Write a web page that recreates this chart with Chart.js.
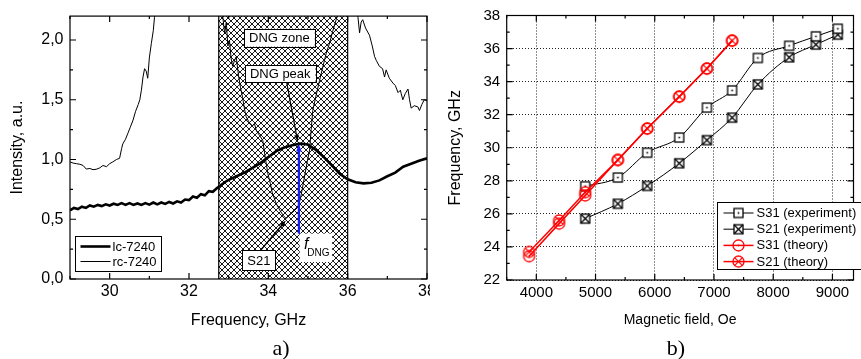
<!DOCTYPE html>
<html>
<head>
<meta charset="utf-8">
<script src="https://cdn.jsdelivr.net/npm/chart.js@4"></script>
<style>
    body { margin: 0; background: #fff; }
    #wrapA { position: absolute; left: 0; top: 0; width: 430px; height: 359px; }
    #wrapB { position: absolute; left: 430px; top: 0; width: 431px; height: 359px; }
</style>
</head>
<body>
<div id="wrapA"><canvas id="chartA"></canvas></div>
<div id="wrapB"><canvas id="chartB"></canvas></div>
<script>
// ---- panel a) spectra ----
var lcFreq = [29.0, 29.1, 29.2, 29.3, 29.4, 29.5, 29.6, 29.7, 29.8, 29.9, 30.0, 30.1, 30.2, 30.3, 30.4, 30.5, 30.6, 30.7, 30.8, 30.9,
    31.0, 31.1, 31.2, 31.3, 31.4, 31.5, 31.6, 31.7, 31.8, 31.9, 32.0, 32.1, 32.2, 32.3, 32.4, 32.5, 32.6, 32.7, 32.8, 32.9,
    33.0, 33.2, 33.4, 33.6, 33.8, 34.0, 34.2, 34.4, 34.6, 34.8, 35.0, 35.2, 35.4, 35.6, 35.8, 36.0, 36.2, 36.4, 36.6, 36.8,
    37.0, 37.2, 37.4, 37.6, 37.8, 38.0];
var lcIntensity = [0.575, 0.595, 0.585, 0.605, 0.595, 0.615, 0.605, 0.62, 0.61, 0.625, 0.615, 0.63, 0.62, 0.635, 0.62, 0.635, 0.62, 0.632, 0.62, 0.635,
    0.622, 0.64, 0.625, 0.64, 0.628, 0.645, 0.632, 0.65, 0.64, 0.665, 0.66, 0.69, 0.68, 0.71, 0.70, 0.735, 0.73, 0.76, 0.785, 0.81,
    0.83, 0.86, 0.89, 0.93, 0.97, 1.02, 1.07, 1.10, 1.12, 1.133, 1.125, 1.08, 1.02, 0.95, 0.88, 0.835, 0.81, 0.80, 0.805, 0.825,
    0.86, 0.89, 0.94, 0.965, 0.99, 1.01];
var rcFreq = [29.0, 29.08, 29.16, 29.25, 29.33, 29.41, 29.5, 29.58, 29.66, 29.75, 29.83, 29.92, 30.0, 30.08, 30.17, 30.25, 30.3, 30.33, 30.4, 30.46,
    30.52, 30.59, 30.65, 30.72, 30.76, 30.8, 30.84, 30.88, 30.92, 30.96, 31.0, 31.05, 31.1, 31.13, 31.3, 32.8, 32.85, 32.9, 32.94, 32.98,
    33.02, 33.06, 33.1, 33.15, 33.19, 33.25, 33.3, 33.35, 33.4, 33.44, 33.5, 33.55, 33.6, 33.65, 33.7, 33.78, 33.86, 33.92, 33.99, 34.05,
    34.1, 34.2, 34.3, 34.38, 34.45, 34.52, 34.62, 34.74, 34.8, 34.86, 34.92, 34.98, 35.04, 35.08, 35.12, 35.2, 35.29, 35.37, 35.46, 35.55,
    35.62, 35.71, 35.79, 35.9, 36.2, 36.26, 36.3, 36.34, 36.38, 36.45, 36.55, 36.62, 36.68, 36.72, 36.8, 36.88, 36.93, 36.97, 37.05, 37.14,
    37.2, 37.27, 37.33, 37.35, 37.39, 37.45, 37.52, 37.56, 37.6, 37.68, 37.77, 37.81, 37.87, 37.93, 38.0];
var rcIntensity = [0.98, 0.97, 0.965, 0.96, 0.95, 0.92, 0.925, 0.915, 0.918, 0.93, 0.95, 0.94, 0.965, 0.98, 1.0, 1.01, 1.09, 1.13, 1.17, 1.22,
    1.27, 1.33, 1.40, 1.46, 1.50, 1.58, 1.69, 1.76, 1.74, 1.68, 1.85, 1.97, 2.08, 2.19, 2.6, 2.6, 2.2, 2.05, 2.15, 1.95,
    2.0, 1.85, 1.78, 1.83, 1.86, 1.7, 1.6, 1.52, 1.42, 1.36, 1.32, 1.30, 1.28, 1.30, 1.24, 1.20, 1.16, 1.02, 0.88, 0.80,
    0.72, 0.63, 0.57, 0.53, 0.506, 0.53, 0.56, 0.60, 0.66, 0.76, 0.87, 0.98, 1.08, 1.25, 1.41, 1.53, 1.66, 1.77, 1.89, 1.98,
    2.07, 2.17, 2.25, 2.6, 2.6, 2.19, 2.06, 2.15, 2.17, 2.1, 2.04, 1.95, 1.86, 1.83, 1.78, 1.76, 1.69, 1.75, 1.68, 1.64,
    1.62, 1.56, 1.58, 1.55, 1.50, 1.55, 1.59, 1.50, 1.43, 1.45, 1.44, 1.41, 1.46, 1.50, 1.49];
var dngZone = [32.75, 36.0];
var fDng = 34.77;
var aXTicks = [30, 32, 34, 36, 38];
var aYTicks = [0, 0.5, 1.0, 1.5, 2.0];
var aXMinor = [29, 31, 33, 35, 37];
var aYMinor = [0.25, 0.75, 1.25, 1.75];

// ---- panel b) dispersion ----
var fieldExp = [4826, 5377, 5873, 6413, 6881, 7306, 7741, 8269, 8721, 9091];
var s31Exp = [27.67, 28.2, 29.7, 30.62, 32.43, 33.47, 35.43, 36.17, 36.74, 37.2];
var s21Exp = [25.71, 26.61, 27.69, 29.06, 30.46, 31.82, 33.83, 35.47, 36.24, 36.84];
var fieldTheory = [3878, 4385, 4826, 5377, 5873, 6413, 6881, 7306];
var s31Theory = [23.44, 25.41, 27.11, 29.26, 31.16, 33.09, 34.79, 36.48];
var s21Theory = [23.7, 25.6, 27.31, 29.26, 31.16, 33.09, 34.79, 36.48];
var bXTicks = [4000, 5000, 6000, 7000, 8000, 9000];
var bYTicks = [22, 24, 26, 28, 30, 32, 34, 36, 38];
var bXMinor = [3500, 4500, 5500, 6500, 7500, 8500];
var bYMinor = [23, 25, 27, 29, 31, 33, 35, 37];

var FONT = '"Liberation Sans", Arial, sans-serif';
var RED = '#ff0000';

function toPoints(xs, ys) {
    var out = [];
    for (var i = 0; i < xs.length; i++) out.push({ x: xs[i], y: ys[i] });
    return out;
}

// fixed tick list for a scale
function useTicks(list) {
    return function (s) {
        s.ticks = list.map(function (v) { return { value: v }; });
    };
}

function makeMarker(shape, mark, color, size) {
    var c = document.createElement('canvas');
    var s = size + 4;
    c.width = s; c.height = s;
    var g = c.getContext('2d');
    var h = s / 2, r = size / 2;
    g.strokeStyle = color; g.lineWidth = 1.3;
    if (shape === 'square') {
        g.fillStyle = '#fff';
        g.fillRect(h - r, h - r, size, size);
        g.strokeRect(h - r, h - r, size, size);
    } else {
        g.beginPath(); g.arc(h, h, r, 0, 2 * Math.PI); g.stroke();
    }
    if (mark === 'dot') {
        g.fillStyle = color;
        g.fillRect(h - 0.8, h - 0.8, 1.6, 1.6);
    } else {
        var k = shape === 'square' ? r : r * 0.7;
        g.beginPath();
        g.moveTo(h - k, h - k); g.lineTo(h + k, h + k);
        g.moveTo(h + k, h - k); g.lineTo(h - k, h + k);
        g.stroke();
    }
    return c;
}

var mS31Exp = makeMarker('square', 'dot', '#000', 9);
var mS21Exp = makeMarker('square', 'cross', '#000', 9);
var mS31Th = makeMarker('circle', 'dot', RED, 11);
var mS21Th = makeMarker('circle', 'cross', RED, 11);

function arrow(ctx, x1, y1, x2, y2, color, width, head) {
    var ang = Math.atan2(y2 - y1, x2 - x1);
    ctx.strokeStyle = color; ctx.fillStyle = color; ctx.lineWidth = width;
    ctx.beginPath(); ctx.moveTo(x1, y1); ctx.lineTo(x2 - Math.cos(ang) * head * 0.6, y2 - Math.sin(ang) * head * 0.6); ctx.stroke();
    ctx.beginPath();
    ctx.moveTo(x2, y2);
    ctx.lineTo(x2 - head * Math.cos(ang - 0.35), y2 - head * Math.sin(ang - 0.35));
    ctx.lineTo(x2 - head * Math.cos(ang + 0.35), y2 - head * Math.sin(ang + 0.35));
    ctx.closePath(); ctx.fill();
}

function textBox(ctx, text, cx, cy, h) {
    ctx.font = '13px ' + FONT;
    var w = ctx.measureText(text).width + 10;
    ctx.fillStyle = '#fff';
    ctx.fillRect(cx - w / 2, cy - h / 2, w, h);
    ctx.strokeStyle = '#000'; ctx.lineWidth = 1;
    ctx.strokeRect(Math.round(cx - w / 2) + 0.5, Math.round(cy - h / 2) + 0.5, Math.round(w), Math.round(h));
    ctx.fillStyle = '#000'; ctx.textAlign = 'center'; ctx.textBaseline = 'middle';
    ctx.fillText(text, cx, cy + 1);
}

// frame with inward ticks on all sides
function framePlugin(xMinor, yMinor) {
    return {
        id: 'frame',
        afterDatasetsDraw: function (chart) {
            var ctx = chart.ctx, a = chart.chartArea, xs = chart.scales.x, ys = chart.scales.y;
            ctx.save();
            ctx.strokeStyle = '#000'; ctx.lineWidth = 1.2;
            ctx.strokeRect(a.left, a.top, a.right - a.left, a.bottom - a.top);
            ctx.beginPath();
            function xt(v, len) {
                var p = xs.getPixelForValue(v);
                ctx.moveTo(p, a.bottom); ctx.lineTo(p, a.bottom - len);
                ctx.moveTo(p, a.top); ctx.lineTo(p, a.top + len);
            }
            function yt(v, len) {
                var p = ys.getPixelForValue(v);
                ctx.moveTo(a.left, p); ctx.lineTo(a.left + len, p);
                ctx.moveTo(a.right, p); ctx.lineTo(a.right - len, p);
            }
            xs.ticks.forEach(function (t) { xt(t.value, 6); });
            ys.ticks.forEach(function (t) { yt(t.value, 6); });
            xMinor.forEach(function (v) { xt(v, 3); });
            yMinor.forEach(function (v) { yt(v, 3); });
            ctx.stroke();
            ctx.restore();
        }
    };
}

function captionPlugin(text, cx) {
    return {
        id: 'caption',
        afterDraw: function (chart) {
            var ctx = chart.ctx;
            ctx.save();
            ctx.font = '22px "Liberation Serif", "Times New Roman", serif';
            ctx.fillStyle = '#000'; ctx.textAlign = 'center'; ctx.textBaseline = 'middle';
            ctx.fillText(text, cx, 349);
            ctx.restore();
        }
    };
}

// cross-hatched DNG zone
var hatchPlugin = {
    id: 'hatch',
    beforeDatasetsDraw: function (chart) {
        var ctx = chart.ctx, a = chart.chartArea, xs = chart.scales.x;
        var n = 6;
        var t = document.createElement('canvas');
        t.width = n; t.height = n;
        var g = t.getContext('2d');
        g.fillStyle = '#fff'; g.fillRect(0, 0, n, n);
        g.strokeStyle = '#000'; g.lineWidth = 0.9;
        g.beginPath();
        g.moveTo(-1, -1); g.lineTo(n + 1, n + 1);
        g.moveTo(n + 1, -1); g.lineTo(-1, n + 1);
        g.stroke();
        var l = xs.getPixelForValue(dngZone[0]), r = xs.getPixelForValue(dngZone[1]);
        ctx.save();
        ctx.fillStyle = ctx.createPattern(t, 'repeat');
        ctx.fillRect(l, a.top, r - l, a.bottom - a.top);
        ctx.strokeStyle = '#000'; ctx.lineWidth = 1.2;
        ctx.beginPath();
        ctx.moveTo(l, a.top); ctx.lineTo(l, a.bottom);
        ctx.moveTo(r, a.top); ctx.lineTo(r, a.bottom);
        ctx.stroke();
        ctx.restore();
    }
};

// labels and arrows of panel a)
var notesPlugin = {
    id: 'notes',
    afterDatasetsDraw: function (chart) {
        var ctx = chart.ctx, xs = chart.scales.x, ys = chart.scales.y;
        function X(v) { return xs.getPixelForValue(v); }
        function Y(v) { return ys.getPixelForValue(v); }
        ctx.save();
        // f_DNG on white patch
        ctx.fillStyle = '#fff';
        ctx.fillRect(X(34.79), Y(0.38), X(35.61) - X(34.79), Y(0.142) - Y(0.38));
        ctx.fillStyle = '#000'; ctx.textAlign = 'left'; ctx.textBaseline = 'alphabetic';
        ctx.font = 'italic 16px ' + FONT;
        ctx.fillText('f', X(34.9), Y(0.255));
        ctx.font = '10px ' + FONT;
        ctx.fillText('DNG', X(34.98), Y(0.19));
        // arrows
        arrow(ctx, X(34.46), Y(1.65), X(34.74), Y(1.15), '#000', 1.2, 7);
        arrow(ctx, X(33.83), Y(0.25), X(34.44), Y(0.49), '#000', 1.5, 7);
        arrow(ctx, X(fDng), Y(0.38), X(fDng), Y(1.13), '#1a1aff', 2.2, 8);
        // boxed labels
        textBox(ctx, 'DNG zone', X(34.28), Y(2.02), 18);
        textBox(ctx, 'DNG peak', X(34.30), Y(1.72), 17);
        textBox(ctx, 'S21', X(33.76), Y(0.157), 20);
        ctx.restore();
    }
};

var legendAPlugin = {
    id: 'legendA',
    afterDraw: function (chart) {
        var ctx = chart.ctx, a = chart.chartArea;
        var l = a.left + 5.5, t = 236.5;
        ctx.save();
        ctx.fillStyle = '#fff'; ctx.fillRect(l, t, 86, 35);
        ctx.strokeStyle = '#000'; ctx.lineWidth = 1; ctx.strokeRect(l, t, 86, 35);
        ctx.beginPath(); ctx.lineWidth = 2.6; ctx.moveTo(l + 5, t + 10); ctx.lineTo(l + 35, t + 10); ctx.stroke();
        ctx.beginPath(); ctx.lineWidth = 1; ctx.moveTo(l + 5, t + 25); ctx.lineTo(l + 35, t + 25); ctx.stroke();
        ctx.fillStyle = '#000'; ctx.font = '13px ' + FONT; ctx.textAlign = 'left'; ctx.textBaseline = 'middle';
        ctx.fillText('lc-7240', l + 37, t + 10.5);
        ctx.fillText('rc-7240', l + 37, t + 25.5);
        ctx.restore();
    }
};

var legendBPlugin = {
    id: 'legendB',
    afterDraw: function (chart) {
        var ctx = chart.ctx;
        var l = 287.5, t = 202.5;
        var rows = [
            ['S31 (experiment)', '#000', mS31Exp, 1],
            ['S21 (experiment)', '#000', mS21Exp, 1],
            ['S31 (theory)', RED, mS31Th, 1.5],
            ['S21 (theory)', RED, mS21Th, 1.5]
        ];
        ctx.save();
        ctx.fillStyle = '#fff'; ctx.fillRect(l, t, 150, 67);
        ctx.strokeStyle = '#000'; ctx.lineWidth = 1; ctx.strokeRect(l, t, 150, 67);
        ctx.font = '13px ' + FONT; ctx.textAlign = 'left'; ctx.textBaseline = 'middle';
        rows.forEach(function (r, i) {
            var y = t + 10.5 + i * 16.2;
            ctx.strokeStyle = r[1]; ctx.lineWidth = r[3];
            ctx.beginPath(); ctx.moveTo(l + 6, y); ctx.lineTo(l + 36, y); ctx.stroke();
            ctx.drawImage(r[2], l + 21 - r[2].width / 2, y - r[2].height / 2);
            ctx.fillStyle = '#000';
            ctx.fillText(r[0], l + 39, y + 0.5);
        });
        ctx.restore();
    }
};

var tickFont = { family: FONT, size: 16 };

new Chart(document.getElementById('chartA'), {
    type: 'scatter',
    data: {
        datasets: [
            { label: 'lc-7240', data: toPoints(lcFreq, lcIntensity), showLine: true, borderColor: '#000', borderWidth: 2.6, pointRadius: 0 },
            { label: 'rc-7240', data: toPoints(rcFreq, rcIntensity), showLine: true, borderColor: '#000', borderWidth: 1, pointRadius: 0 }
        ]
    },
    options: {
        responsive: true, maintainAspectRatio: false, animation: false, devicePixelRatio: 1,
        layout: { padding: { top: 16, right: 3, bottom: 0, left: 0 } },
        plugins: { legend: { display: false }, tooltip: { enabled: false } },
        scales: {
            x: {
                type: 'linear', min: 29, max: 38,
                afterBuildTicks: useTicks(aXTicks),
                afterFit: function (s) { s.height = 80; s.paddingLeft = 0; s.paddingRight = 0; },
                grid: { display: false, drawTicks: false }, border: { display: false },
                ticks: { padding: 3, color: '#000', font: tickFont, maxRotation: 0, autoSkip: false,
                    callback: function (v) { return String(v); } },
                title: { display: true, text: 'Frequency, GHz', color: '#000', font: { family: FONT, size: 16 }, padding: { top: 0, bottom: 29 } }
            },
            y: {
                type: 'linear', min: 0, max: 2.2,
                afterBuildTicks: useTicks(aYTicks),
                afterFit: function (s) { s.width = 70; },
                grid: { display: false, drawTicks: false }, border: { display: false },
                ticks: { padding: 6.5, color: '#000', font: tickFont, autoSkip: false,
                    callback: function (v) { return v.toFixed(1).replace('.', ','); } },
                title: { display: true, text: 'Intensity, a.u.', color: '#000', font: { family: FONT, size: 16 }, padding: { top: 8, bottom: 0 } }
            }
        }
    },
    plugins: [hatchPlugin, notesPlugin, framePlugin(aXMinor, aYMinor), legendAPlugin, captionPlugin('a)', 281)]
});

new Chart(document.getElementById('chartB'), {
    type: 'scatter',
    data: {
        datasets: [
            { label: 'S31 (theory)', data: toPoints(fieldTheory, s31Theory), showLine: true, borderColor: RED, borderWidth: 1.5, pointStyle: mS31Th, pointRadius: 6 },
            { label: 'S21 (theory)', data: toPoints(fieldTheory, s21Theory), showLine: true, borderColor: RED, borderWidth: 1.5, pointStyle: mS21Th, pointRadius: 6 },
            { label: 'S31 (experiment)', data: toPoints(fieldExp, s31Exp), showLine: true, borderColor: '#000', borderWidth: 1, cubicInterpolationMode: 'monotone', pointStyle: mS31Exp, pointRadius: 5 },
            { label: 'S21 (experiment)', data: toPoints(fieldExp, s21Exp), showLine: true, borderColor: '#000', borderWidth: 1, cubicInterpolationMode: 'monotone', pointStyle: mS21Exp, pointRadius: 5 }
        ]
    },
    options: {
        responsive: true, maintainAspectRatio: false, animation: false, devicePixelRatio: 1,
        layout: { padding: { top: 14, right: 0, bottom: 0, left: 0 } },
        plugins: { legend: { display: false }, tooltip: { enabled: false } },
        scales: {
            x: {
                type: 'linear', min: 3500, max: 9356,
                afterBuildTicks: useTicks(bXTicks),
                afterFit: function (s) { s.height = 79; s.paddingLeft = 0; s.paddingRight = 0; },
                grid: { color: '#222', lineWidth: 1, drawTicks: false }, border: { display: false, dash: [1, 2] },
                ticks: { padding: 3.5, color: '#000', font: { family: FONT, size: 15 }, maxRotation: 0, autoSkip: false,
                    callback: function (v) { return String(v); } },
                title: { display: true, text: 'Magnetic field, Oe', color: '#000', font: { family: FONT, size: 14 }, padding: { top: 0, bottom: 30.5 } }
            },
            y: {
                type: 'linear', min: 22, max: 38,
                afterBuildTicks: useTicks(bYTicks),
                afterFit: function (s) { s.width = 76.7; },
                grid: { color: '#222', lineWidth: 1, drawTicks: false }, border: { display: false, dash: [1, 2] },
                ticks: { padding: 6.5, color: '#000', font: { family: FONT, size: 15 }, autoSkip: false,
                    callback: function (v) { return String(v); } },
                title: { display: true, text: 'Frequency, GHz', color: '#000', font: { family: FONT, size: 16 }, padding: { top: 16, bottom: 0 } }
            }
        }
    },
    plugins: [framePlugin(bXMinor, bYMinor), legendBPlugin, captionPlugin('b)', 246)]
});
</script>
</body>
</html>
